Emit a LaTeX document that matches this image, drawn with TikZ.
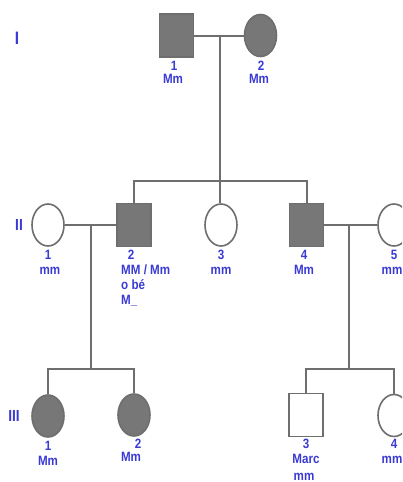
\documentclass[tikz,border=0pt]{standalone}
\usepackage{fontspec}
\setmainfont{Liberation Sans}[FakeStretch=0.86]
\usetikzlibrary{shapes.geometric}
\definecolor{aff}{HTML}{777777}
\definecolor{ln}{HTML}{6E6E6E}
\definecolor{lab}{HTML}{3A3AD4}
\tikzset{
  line/.style={draw=ln, line width=2pt},
  male/.style={rectangle, draw=ln, line width=1.6pt, minimum width=34pt, minimum height=43pt, inner sep=0pt},
  female/.style={ellipse, draw=ln, line width=1.6pt, minimum width=32pt, minimum height=42pt, inner sep=0pt},
  affected/.style={fill=aff},
  normal/.style={fill=white},
  lbl/.style={text=lab, font=\bfseries\fontsize{13.5}{14}\selectfont, inner sep=0pt, anchor=base},
  lbll/.style={lbl, anchor=base west},
  gen/.style={text=lab, font=\bfseries\fontsize{18}{19}\selectfont, inner sep=0pt}
}
\begin{document}
\begin{tikzpicture}[x=1pt,y=-1pt]
\clip (0,0) rectangle (402,482);
\fill[white] (0,0) rectangle (402,482);
% generation labels
\node[gen] (gI) at (17,38) {I};
\node[gen, font=\bfseries\fontsize{16}{17}\selectfont] (gII) at (19,225) {II};
\node[gen, font=\bfseries\fontsize{16}{17}\selectfont] (gIII) at (14,416) {III};
% generation I
\node[male, affected] (I1) at (176.5,35.5) {};
\node[female, affected] (I2) at (260.5,35.5) {};
% generation II
\node[female, normal] (II1) at (48,225) {};
\node[male, affected] (II2) at (134,225) {};
\node[female, normal] (II3) at (221,225) {};
\node[male, affected] (II4) at (306.5,225) {};
\node[female, normal] (II5) at (394,225) {};
% generation III
\node[female, affected] (III1) at (48,416) {};
\node[female, affected] (III2) at (134,415) {};
\node[male, normal] (III3) at (306,415) {};
\node[female, normal] (III4) at (394,415.5) {};
% coordinates
\coordinate (m1) at (220,35.5);
\coordinate (s1) at (220,181);
\coordinate (s1l) at (134,181);
\coordinate (s1r) at (306.5,181);
\coordinate (m2) at (91,225);
\coordinate (s2) at (91,369);
\coordinate (s2l) at (48,369);
\coordinate (s2r) at (134,369);
\coordinate (m3) at (349,225);
\coordinate (s3) at (349,369);
\coordinate (s3l) at (306,369);
\coordinate (s3r) at (394,369);
% connectors
\draw[line] (I1.east) -- (I2.west);
\draw[line] (m1) -- (s1);
\draw[line] (II2.north) |- (s1l) -- (s1r) -- (II4.north);
\draw[line] (s1) -- (s1 |- II3.north);
\draw[line] (II1.east) -- (II2.west);
\draw[line] (m2) -- (s2);
\draw[line] (III1.north) |- (s2l) -- (s2r) -- (III2.north);
\draw[line] (II4.east) -- (II5.west);
\draw[line] (m3) -- (s3);
\draw[line] (III3.north) |- (s3l) -- (s3r) -- (III4.north);
% labels
\node[lbl] (l11) at (174,70) {1};
\node[lbl] (l11g) at (173,83) {Mm};
\node[lbl] (l12) at (261,70) {2};
\node[lbl] (l12g) at (259,83) {Mm};
\node[lbl] (l21) at (48,259) {1};
\node[lbl] (l21g) at (50,274) {mm};
\node[lbl] (l22) at (131,259) {2};
\node[lbll] (l22g) at (121,274) {MM / Mm};
\node[lbll] (l22h) at (121,289) {o bé};
\node[lbll] (l22i) at (121,304) {M\_};
\node[lbl] (l23) at (221,259) {3};
\node[lbl] (l23g) at (221,274) {mm};
\node[lbl] (l24) at (304,259) {4};
\node[lbl] (l24g) at (304,274) {Mm};
\node[lbl] (l25) at (394,259) {5};
\node[lbl] (l25g) at (392,274) {mm};
\node[lbl] (l31) at (48,450) {1};
\node[lbl] (l31g) at (48,465) {Mm};
\node[lbl] (l32) at (138,448) {2};
\node[lbl] (l32g) at (131,461) {Mm};
\node[lbl] (l33) at (306,448) {3};
\node[lbl] (l33g) at (306,463) {Marc};
\node[lbl] (l33h) at (304,480) {mm};
\node[lbl] (l34) at (394,448) {4};
\node[lbl] (l34g) at (392,463) {mm};
\end{tikzpicture}
\end{document}
